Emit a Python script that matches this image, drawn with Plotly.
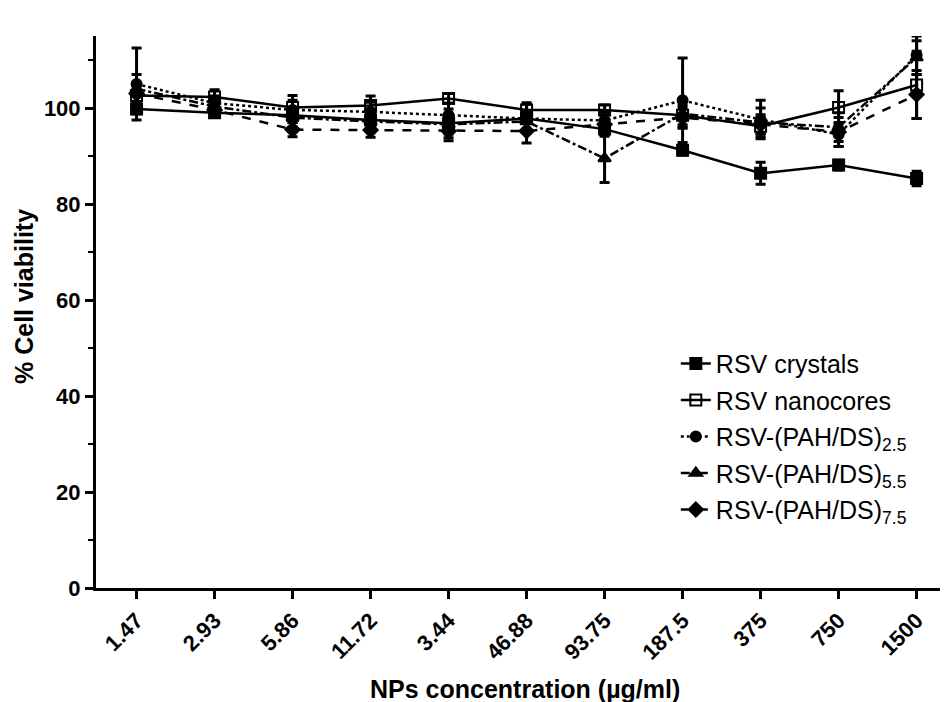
import plotly.graph_objects as go

# Concentrations (µg/ml), shown as evenly spaced categories
concentrations = ["1.47", "2.93", "5.86", "11.72", "3.44", "46.88",
                  "93.75", "187.5", "375", "750", "1500"]

# Mean % cell viability and error per formulation
crystals_mean = [99.8, 99.0, 98.5, 97.5, 96.8, 97.8, 95.6, 91.2, 86.4, 88.1, 85.3]
crystals_err = [1.0, 1.0, 1.5, 1.5, 3.0, 1.0, 1.0, 1.0, 2.3, 1.0, 1.5]

nanocores_mean = [102.6, 102.3, 100.1, 100.5, 102.0, 99.6, 99.6, 98.5, 96.2, 100.1, 104.8]
nanocores_err = [2.0, 1.5, 2.5, 2.0, 1.0, 1.5, 1.0, 2.0, 1.5, 3.5, 7.0]

pah25_mean = [105.0, 101.0, 99.6, 99.2, 98.5, 97.8, 97.4, 101.6, 97.6, 94.5, 111.0]
pah25_err = [7.5, 1.5, 2.0, 2.0, 2.5, 3.0, 2.0, 8.8, 4.0, 2.5, 4.0]

pah55_mean = [104.0, 100.3, 98.0, 97.2, 96.6, 97.2, 89.5, 98.8, 97.0, 96.0, 110.5]
pah55_err = [3.0, 1.5, 2.0, 2.0, 2.0, 2.0, 5.0, 3.0, 3.0, 3.0, 3.5]

pah75_mean = [103.0, 99.6, 95.5, 95.4, 95.2, 95.2, 96.6, 98.0, 96.6, 95.0, 102.8]
pah75_err = [2.0, 1.5, 1.5, 1.5, 2.0, 2.5, 2.5, 2.0, 2.0, 3.0, 5.0]

series = [
    ("RSV crystals", crystals_mean, crystals_err, "square", "solid", 11),
    ("RSV nanocores", nanocores_mean, nanocores_err, "square-open", "solid", 11),
    ("RSV-(PAH/DS)<sub>2.5</sub>", pah25_mean, pah25_err, "circle", "dot", 10),
    ("RSV-(PAH/DS)<sub>5.5</sub>", pah55_mean, pah55_err, "triangle-up", "dashdot", 11),
    ("RSV-(PAH/DS)<sub>7.5</sub>", pah75_mean, pah75_err, "diamond", "dash", 11),
]

x_idx = list(range(len(concentrations)))

fig = go.Figure()
for i, (name, mean, err, sym, dash, size) in enumerate(series):
    fig.add_trace(go.Scatter(
        x=x_idx, y=mean, name=name, mode="lines+markers",
        legendgroup=f"g{i}",
        line=dict(color="black", width=2.5, dash=dash),
        marker=dict(symbol=sym, size=size, color="black",
                    line=dict(color="black", width=2)),
        error_y=dict(type="data", array=err, visible=True,
                     color="black", thickness=3, width=5),
    ))

font_family = "Liberation Sans, Arial, sans-serif"
tick_font = dict(family=font_family, size=22, color="black", weight="bold")
title_font = dict(family=font_family, size=25, color="black", weight="bold")

fig.update_layout(
    width=944, height=702,
    margin=dict(l=96, r=4, t=36, b=114),
    paper_bgcolor="white", plot_bgcolor="white",
    showlegend=True,
    legend=dict(x=0.687, y=0.448, xanchor="left", yanchor="top",
                bgcolor="rgba(0,0,0,0)",
                font=dict(family=font_family, size=25, color="black"),
                tracegroupgap=1),
    xaxis=dict(
        range=[-0.52, 10.3], tickmode="array", tickvals=x_idx,
        ticktext=concentrations, tickangle=-45,
        showline=True, linecolor="black", linewidth=3,
        ticks="outside", ticklen=8, tickwidth=3, tickcolor="black",
        showgrid=False, zeroline=False, tickfont=tick_font,
    ),
    yaxis=dict(
        range=[0, 115], tickvals=[0, 20, 40, 60, 80, 100],
        showline=True, linecolor="black", linewidth=3,
        ticks="outside", ticklen=8, tickwidth=3, tickcolor="black",
        minor=dict(dtick=10, ticks="outside", ticklen=5, tickwidth=2,
                   tickcolor="black", showgrid=False),
        showgrid=False, zeroline=False, tickfont=tick_font,
    ),
    annotations=[
        dict(text="NPs concentration (µg/ml)", font=title_font,
             xref="paper", yref="paper", x=(525 - 96) / 844, y=-(689 - 588) / 552,
             xanchor="center", yanchor="middle", showarrow=False),
        dict(text="% Cell viability", font=title_font, textangle=-90,
             xref="paper", yref="paper", x=-(96 - 24) / 844, y=(588 - 297) / 552,
             xanchor="center", yanchor="middle", showarrow=False),
    ],
)

fig.write_html("out.html")
